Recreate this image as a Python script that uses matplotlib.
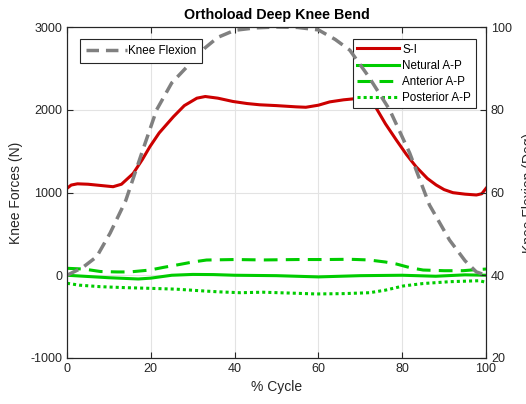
# Orthoload deep knee bend: knee forces (left axis) and knee flexion (right axis)
import numpy as np
import matplotlib
matplotlib.use("Agg")
import matplotlib.pyplot as plt

plt.rcParams['font.family'] = ['Liberation Sans', 'DejaVu Sans']
plt.rcParams['axes.unicode_minus'] = False

# knee flexion (deg), right axis
flex_x = [0, 3, 3.9, 7.1, 10.3, 14, 18, 21.4, 25, 29.4, 33, 36, 40, 45, 50, 55, 60, 64, 67.5, 72, 77, 81.8, 86.5, 91.3, 95, 97.7, 100]
flex_y = [40, 41.5, 42, 44.5, 50.2, 58, 70, 80, 86.5, 91.2, 95, 97.5, 99.2, 99.8, 100, 99.9, 99.3, 97, 94.4, 88, 80, 69.5, 57, 48.5, 43.5, 40.8, 40]

# superior-inferior force (N)
si_x = [0, 1, 2.5, 5, 8, 11, 13, 15.8, 18, 19.8, 22, 25.4, 28, 31, 33, 36, 39.6, 43, 46, 50, 54.7, 57, 60, 62.7, 66, 69, 71.5, 73.8, 76, 78.6, 81, 83.3, 86, 88.1, 90, 92.1, 95, 97.7, 99, 100]
si_y = [1050, 1090, 1105, 1100, 1085, 1070, 1100, 1230, 1400, 1555, 1720, 1916, 2050, 2140, 2160, 2140, 2100, 2075, 2060, 2050, 2035, 2030, 2055, 2095, 2120, 2135, 2100, 2020, 1830, 1634, 1460, 1312, 1170, 1091, 1035, 998, 980, 970, 985, 1050]

# neutral A-P force (N)
neu_x = [0, 5, 10, 17, 20, 25, 30, 35, 40, 50, 60, 70, 80, 88, 95, 100]
neu_y = [0, -15, -30, -45, -35, 0, 10, 8, 0, -5, -20, -5, 0, -12, 5, 0]

# anterior A-P force (N)
ant_x = [0, 4, 8, 12, 15, 19.8, 23, 26.2, 30, 33.3, 40, 47, 55, 62, 67.5, 72, 76, 78.6, 82, 85, 90, 94.5, 97, 100]
ant_y = [84, 75, 45, 40, 40, 63, 95, 124, 160, 184, 190, 185, 190, 190, 193, 185, 160, 136, 90, 63, 55, 55, 65, 75]

# posterior A-P force (N)
post_x = [0, 3, 7.9, 14, 19.8, 26, 31.7, 36, 41.3, 46.8, 53, 59.5, 66, 72.2, 76, 80.2, 85, 91.3, 98.4, 100]
post_y = [-97, -120, -138, -150, -158, -168, -187, -200, -211, -205, -215, -226, -222, -211, -180, -130, -100, -78, -66, -85]

red = '#cc0000'
green = '#00cc00'
axcol = '#262626'

fig = plt.figure(figsize=(5.26, 4.04), dpi=100)
ax1 = fig.add_axes([67/526, 46/404, 419/526, 331/404])

ax1.plot(si_x, si_y, color=red, lw=2.2, label='S-I')
ax1.plot(neu_x, neu_y, color=green, lw=2.2, label='Netural A-P')
ax1.plot(ant_x, ant_y, color=green, lw=2.2, ls=(0, (4.5, 2.7)), label='Anterior A-P')
ax1.plot(post_x, post_y, color=green, lw=2.2, ls=(0, (1, 1)), label='Posterior A-P')

ax1.set_xlim(0, 100)
ax1.set_ylim(-1000, 3000)
ax1.set_xticks([0, 20, 40, 60, 80, 100])
ax1.set_yticks([-1000, 0, 1000, 2000, 3000])
ax1.grid(True, color='#e3e3e3', lw=0.8)
ax1.set_axisbelow(True)
ax1.tick_params(direction='in', top=True, colors=axcol, labelsize=9, length=4)
for s in ax1.spines.values():
    s.set_color(axcol)
ax1.set_xlabel('% Cycle', fontsize=10, color=axcol)
ax1.set_ylabel('Knee Forces (N)', fontsize=10, color=axcol)
ax1.yaxis.set_label_coords(-0.105, 0.5)
ax1.set_title('Orthoload Deep Knee Bend', fontsize=10.3, fontweight='bold', pad=6)

leg1 = ax1.legend(loc='upper right', bbox_to_anchor=(0.975, 0.964), fontsize=8.4,
                  fancybox=False, framealpha=1, edgecolor=axcol, handlelength=3.6,
                  handletextpad=0.25, borderpad=0.4, labelspacing=0.35, borderaxespad=0)
leg1.get_frame().set_linewidth(0.8)

ax2 = ax1.twinx()
ax2.plot(flex_x, flex_y, color='#808080', lw=2.5, ls=(0, (3.6, 2)), label='Knee Flexion')
ax2.set_ylim(20, 100)
ax2.set_yticks([20, 40, 60, 80, 100])
ax2.tick_params(direction='in', colors=axcol, labelsize=9, length=4)
for s in ax2.spines.values():
    s.set_color(axcol)
ax2.set_ylabel('Knee Flexion (Deg)', fontsize=10, color=axcol)
ax2.yaxis.set_label_coords(1.086, 0.5)

leg2 = ax2.legend(loc='upper left', bbox_to_anchor=(0.031, 0.964), fontsize=8.4,
                  fancybox=False, framealpha=1, edgecolor=axcol, handlelength=3.5,
                  handletextpad=0.15, borderpad=0.5, borderaxespad=0)
leg2.get_frame().set_linewidth(0.8)

fig.savefig('out.png', dpi=100)
